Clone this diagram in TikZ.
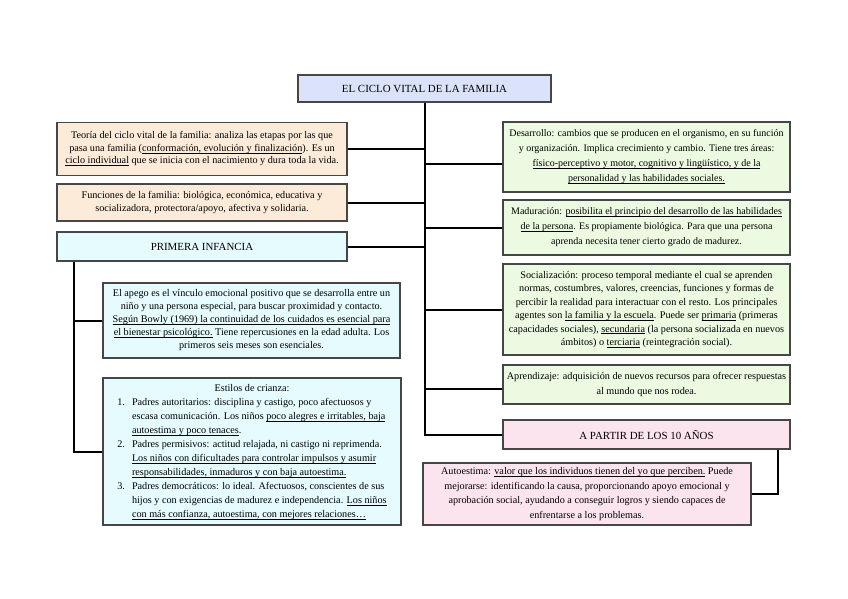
\documentclass[tikz,border=0pt]{standalone}
\usepackage{fontspec}
\setmainfont{Liberation Serif}
\newcommand\myul[1]{\setbox0\hbox{#1}\rlap{\vrule height -1.3pt depth 1.8pt width \wd0}\box0\relax}
\definecolor{titlefill}{RGB}{218,227,250}
\definecolor{peachfill}{RGB}{253,235,218}
\definecolor{cyanfill}{RGB}{230,251,253}
\definecolor{greenfill}{RGB}{235,250,225}
\definecolor{pinkfill}{RGB}{252,228,238}
\definecolor{boxline}{RGB}{70,70,70}
\tikzset{
  box/.style={draw=boxline, line width=1.4pt, rectangle, inner xsep=2pt, inner ysep=3pt, align=center,
    font=\fontsize{10.2}{13}\selectfont},
  capbox/.style={box, font=\fontsize{10.9}{12}\selectfont},
  conn/.style={line width=2pt, black},
}
\begin{document}
\begin{tikzpicture}[x=1pt,y=-1pt]
\useasboundingbox (0,0) rectangle (848,599);
% title
\node[capbox, fill=titlefill, minimum width=253pt, minimum height=27pt] (title) at (424.5,88.5)
  {EL CICLO VITAL DE LA FAMILIA};
% left column
\node[box, fill=peachfill, minimum width=290pt, minimum height=53pt, font=\fontsize{10.2}{12.5}\selectfont] (teoria) at (202,149)
  {Teoría del ciclo vital de la familia: analiza las etapas por las que\\
   pasa una familia (\myul{conformación, evolución y finalización}). Es un\\
   \myul{ciclo individual} que se inicia con el nacimiento y dura toda la vida.};
\node[box, fill=peachfill, minimum width=290pt, minimum height=37pt] (funciones) at (202,202.5)
  {Funciones de la familia: biológica, económica, educativa y\\
   socializadora, protectora/apoyo, afectiva y solidaria.};
\node[capbox, fill=cyanfill, minimum width=290pt, minimum height=29pt] (primera) at (202,246.5)
  {PRIMERA INFANCIA};
\node[box, fill=cyanfill, minimum width=297pt, minimum height=75pt] (apego) at (251.5,320.5)
  {El apego es el vínculo emocional positivo que se desarrolla entre un\\
   niño y una persona especial, para buscar proximidad y contacto.\\
   \myul{Según Bowly (1969) la continuidad de los cuidados es esencial para}\\
   \myul{el bienestar psicológico.} Tiene repercusiones en la edad adulta. Los\\
   primeros seis meses son esenciales.};
\node[box, fill=cyanfill, minimum width=298pt, minimum height=147pt, align=left, font=\fontsize{10.2}{14}\selectfont] (estilos) at (252,451.5)
  {\begin{tabular}{@{}l@{\hspace{7pt}}l@{}}
   \multicolumn{2}{c}{Estilos de crianza:}\\
   1. & Padres autoritarios: disciplina y castigo, poco afectuosos y\\
      & escasa comunicación. Los niños \myul{poco alegres e irritables, baja}\\
      & \myul{autoestima y poco tenaces}.\\
   2. & Padres permisivos: actitud relajada, ni castigo ni reprimenda.\\
      & \myul{Los niños con dificultades para controlar impulsos y asumir}\\
      & \myul{responsabilidades, inmaduros y con baja autoestima.}\\
   3. & Padres democráticos: lo ideal. Afectuosos, conscientes de sus\\
      & hijos y con exigencias de madurez e independencia. \myul{Los niños}\\
      & \myul{con más confianza, autoestima, con mejores relaciones…}
   \end{tabular}};
% right column
\node[box, fill=greenfill, minimum width=287pt, minimum height=70pt, font=\fontsize{10}{15}\selectfont] (desarrollo) at (646.5,157)
  {Desarrollo: cambios que se producen en el organismo, en su función\\
   y organización. Implica crecimiento y cambio. Tiene tres áreas:\\
   \myul{físico-perceptivo y motor, cognitivo y lingüístico, y de la}\\
   \myul{personalidad y las habilidades sociales.}};
\node[box, fill=greenfill, minimum width=287pt, minimum height=55pt, font=\fontsize{10}{15}\selectfont] (maduracion) at (646.5,227.5)
  {Maduración: \myul{posibilita el principio del desarrollo de las habilidades}\\
   \myul{de la persona}. Es propiamente biológica. Para que una persona\\
   aprenda necesita tener cierto grado de madurez.};
\node[box, fill=greenfill, minimum width=287pt, minimum height=91pt, font=\fontsize{10.2}{13.5}\selectfont] (socializacion) at (646.5,309.5)
  {Socialización: proceso temporal mediante el cual se aprenden\\
   normas, costumbres, valores, creencias, funciones y formas de\\
   percibir la realidad para interactuar con el resto. Los principales\\
   agentes son \myul{la familia y la escuela}. Puede ser \myul{primaria} (primeras\\
   capacidades sociales), \myul{secundaria} (la persona socializada en nuevos\\
   ámbitos) o \myul{terciaria} (reintegración social).};
\node[box, fill=greenfill, minimum width=287pt, minimum height=39pt, font=\fontsize{10.2}{15}\selectfont] (aprendizaje) at (646.5,384.5)
  {Aprendizaje: adquisición de nuevos recursos para ofrecer respuestas\\
   al mundo que nos rodea.};
\node[capbox, fill=pinkfill, minimum width=287pt, minimum height=29pt] (apartir) at (646.5,434.5)
  {A PARTIR DE LOS 10 AÑOS};
\node[box, fill=pinkfill, minimum width=328pt, minimum height=62pt, font=\fontsize{10.2}{14.5}\selectfont] (autoestima) at (587,494)
  {Autoestima: \myul{valor que los individuos tienen del yo que perciben.} Puede\\
   mejorarse: identificando la causa, proporcionando apoyo emocional y\\
   aprobación social, ayudando a conseguir logros y siendo capaces de\\
   enfrentarse a los problemas.};
% connectors
\coordinate (spine) at (title.south |- apartir.west);
\draw[conn] (title.south) -- (spine) -- (apartir.west);
\draw[conn] (teoria.east) -- (teoria.east -| title.south);
\draw[conn] (funciones.east) -- (funciones.east -| title.south);
\draw[conn] (primera.east) -- (primera.east -| title.south);
\draw[conn] ([yshift=-7pt]desarrollo.west) -- ([yshift=-7pt]desarrollo.west -| title.south);
\draw[conn] (maduracion.west) -- (maduracion.west -| title.south);
\draw[conn] (socializacion.west) -- (socializacion.west -| title.south);
\draw[conn] ([yshift=-4pt]aprendizaje.west) -- ([yshift=-4pt]aprendizaje.west -| title.south);
\coordinate (lv) at ([xshift=18pt]primera.south west);
\draw[conn] (lv) |- (estilos.west);
\draw[conn] (apego.west) -- (apego.west -| lv);
\coordinate (rv) at ([xshift=-13pt]apartir.south east);
\draw[conn] (rv) |- (autoestima.east);
\end{tikzpicture}
\end{document}
